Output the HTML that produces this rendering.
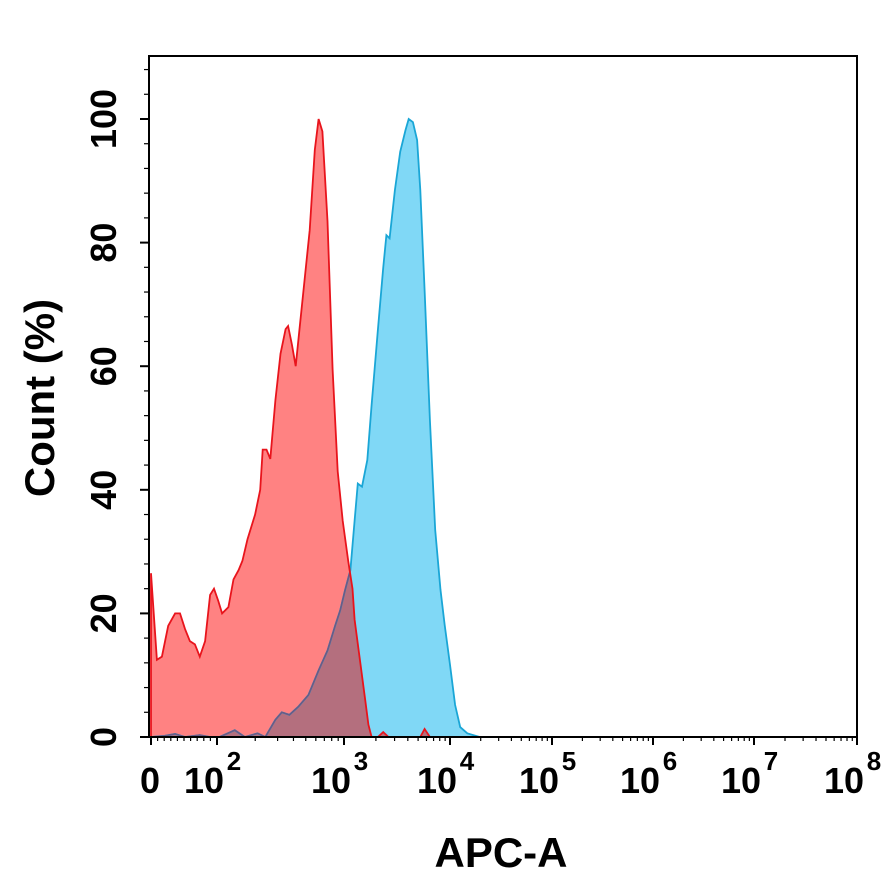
<!DOCTYPE html>
<html><head><meta charset="utf-8"><style>
body{margin:0;background:#fff;}
svg{display:block;font-family:"Liberation Sans",Arial,sans-serif;}
</style></head><body>
<svg id="chart" width="881" height="886" viewBox="0 0 881 886" xmlns="http://www.w3.org/2000/svg">
<defs><clipPath id="redclip"><path id="redclippath" d=""/></clipPath></defs>
<g id="fills"></g>
<g id="axes"></g>
<text transform="translate(54,398) rotate(-90)" text-anchor="middle" font-size="42" font-weight="bold">Count  (%)</text>
<text x="501" y="867" text-anchor="middle" font-size="42" font-weight="bold">APC-A</text>
</svg>
<script>
// x values in decade units (0 = zero label, 2 = 10^2, 3 = 10^3 ...), y in count %
const redX=[0,0.18,0.33,0.52,0.73,0.88,1.03,1.18,1.33,1.48,1.64,1.79,1.91,2.01,2.04,2.09,2.13,2.17,2.2,2.24,2.3,2.34,2.36,2.39,2.42,2.46,2.5,2.54,2.56,2.59,2.62,2.65,2.69,2.73,2.77,2.8,2.83,2.87,2.91,2.95,2.99,3.04,3.08,3.1,3.15,3.2,3.23,3.26,3.32,3.37,3.42,3.72,3.76,3.81];
const redY=[26.5,12.5,13,18,20,20,17.5,15.5,15,13,15.5,23,24,22,20,21,25.5,27,28.5,32,36,40,46.5,46.5,45,54.5,62,66,66.5,63.5,60,66,74,82,95,100,98,83.5,59.5,43,35,28.5,24,19,12.5,6,2,0,0,0.8,0,0,1.3,0];
const blueX=[0,0.42,0.73,1.03,1.48,1.79,2.02,2.14,2.22,2.32,2.38,2.46,2.51,2.57,2.64,2.72,2.8,2.87,2.93,2.97,3.01,3.06,3.1,3.13,3.17,3.22,3.26,3.32,3.37,3.4,3.43,3.48,3.53,3.58,3.61,3.65,3.69,3.72,3.76,3.81,3.86,3.91,3.95,4,4.05,4.1,4.17,4.29];
const blueY=[0,0.2,0.5,0,0.3,0,0,1.1,0,0.6,0,2.8,4,3.6,4.9,6.8,10.8,14,18,20.5,23.8,27,35,41,40.5,44.8,53.7,65.9,75.9,81.2,80.7,88.5,94.7,98.2,100,99.5,96.6,88.5,72.3,51.3,33.5,23.8,18.1,11.7,5.2,1.6,0.6,0];
const yTicks=[0,20,40,60,80,100];
const xTickDecades=[2,3,4,5,6,7,8];

const L=149,R=857,T=56,B=737;
const anchorsD=[0,2,3,4,5,6,7,8];
const anchorsP=[151,217,344,450,552,653,754,857];
function xs(d){
  for(let i=0;i<anchorsD.length-1;i++){
    if(d<=anchorsD[i+1]||i===anchorsD.length-2){
      const t=(d-anchorsD[i])/(anchorsD[i+1]-anchorsD[i]);
      return anchorsP[i]+t*(anchorsP[i+1]-anchorsP[i]);
    }
  }
}
function ys(v){return B-v*(B-119)/100;}
const NS="http://www.w3.org/2000/svg";
function mk(tag,attrs,parent){const e=document.createElementNS(NS,tag);for(const k in attrs)e.setAttribute(k,attrs[k]);parent.appendChild(e);return e;}
const fills=document.getElementById('fills'),axes=document.getElementById('axes');
function path(xa,ya){let d='M'+xs(xa[0])+','+B;for(let i=0;i<xa.length;i++)d+=' L'+xs(xa[i]).toFixed(1)+','+ys(ya[i]).toFixed(1);d+=' L'+xs(xa[xa.length-1])+','+B;return d;}
document.getElementById('redclippath').setAttribute('d',path(redX,redY)+' Z');
const bf=mk('path',{d:path(blueX,blueY)+' Z',fill:'#80d8f6',stroke:'none'},fills);


const rf=mk('path',{d:path(redX,redY)+' Z',fill:'#ff8282',stroke:'none'},fills);


const of=mk('path',{d:path(blueX,blueY)+' Z',fill:'#b46f7e',stroke:'none','clip-path':'url(#redclip)'},fills);


const bl=mk('path',{d:path(blueX,blueY),fill:'none',stroke:'#1aa6d6','stroke-width':1.8},fills);


const bl2=mk('path',{d:path(blueX,blueY),fill:'none',stroke:'#6a5a86','stroke-width':1.6,'clip-path':'url(#redclip)'},fills);


const rl=mk('path',{d:path(redX,redY),fill:'none',stroke:'#e8141c','stroke-width':1.8},fills);



const fr=mk('rect',{x:L,y:T,width:R-L,height:B-T,fill:'none',stroke:'#000','stroke-width':2},axes);


for(let v=0;v<=108;v+=4){
  const major=v%20===0;
  const t=mk('line',{x1:major?140:144,x2:L,y1:ys(v),y2:ys(v),stroke:'#000','stroke-width':major?2:1.2},axes);
  
  
}
yTicks.forEach(v=>{
  const t=mk('text',{transform:'translate(116,'+ys(v)+') rotate(-90)','text-anchor':'middle','font-size':36,'font-weight':'bold'},axes);
  t.textContent=String(v);
  
  
});
function tick(x,len,w){const t=mk('line',{x1:x,x2:x,y1:B,y2:B+len,stroke:'#000','stroke-width':w},axes);
  
  }
tick(xs(0),8,2);
for(let k=1;k<10;k++) tick(xs(2*k/10),4,1.2);
xTickDecades.forEach(d=>{
  tick(xs(d),8,2);
  if(d<8) for(let k=2;k<10;k++) tick(xs(d+Math.log10(k)),4,1.2);
});
const z=mk('text',{x:150,y:793,'text-anchor':'middle','font-size':36,'font-weight':'bold'},axes);
z.textContent='0';


xTickDecades.forEach(d=>{
  const t=mk('text',{x:xs(d)-13,y:793,'text-anchor':'middle','font-size':36,'font-weight':'bold'},axes);
  t.textContent='10';
  
  
  const s=mk('text',{x:xs(d)+17,y:770,'text-anchor':'middle','font-size':26,'font-weight':'bold'},axes);
  s.textContent=String(d);
  
  
});
</script>
</body></html>
